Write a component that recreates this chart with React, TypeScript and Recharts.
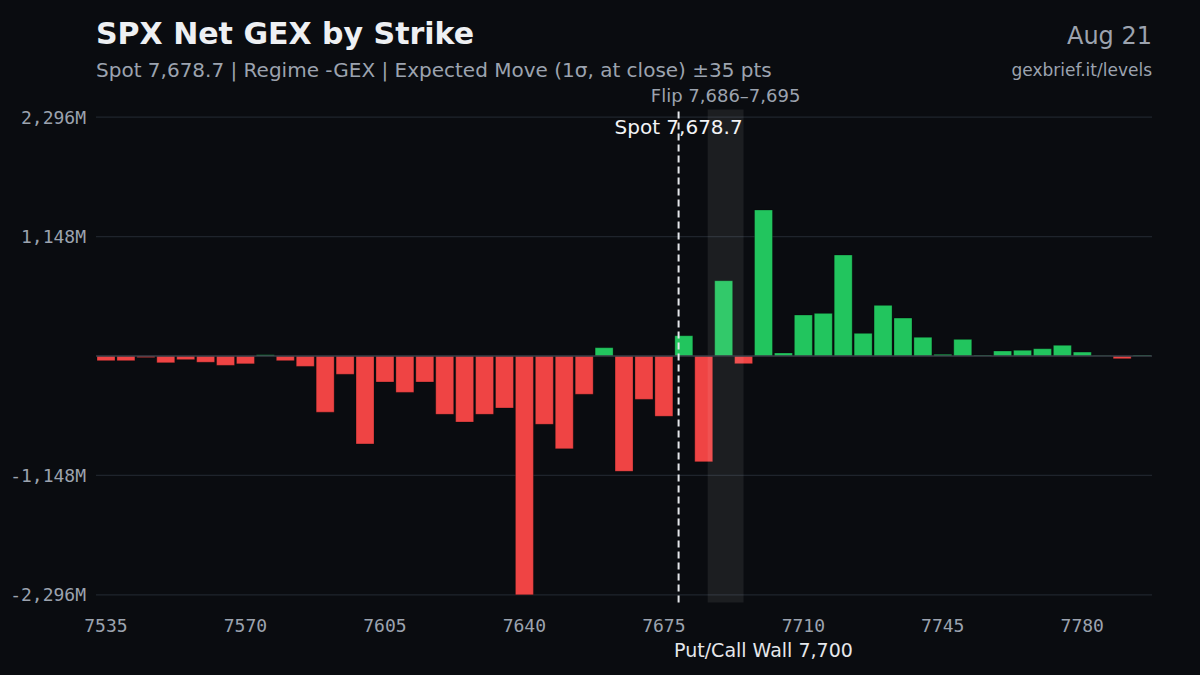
import React from "react";
import {
  BarChart,
  Bar,
  XAxis,
  YAxis,
  ReferenceLine,
  ReferenceArea,
  Cell,
} from "recharts";

// ---- Data ----
const strikes = [
  7535, 7540, 7545, 7550, 7555, 7560, 7565, 7570, 7575, 7580, 7585, 7590, 7595,
  7600, 7605, 7610, 7615, 7620, 7625, 7630, 7635, 7640, 7645, 7650, 7655, 7660,
  7665, 7670, 7675, 7680, 7685, 7690, 7695, 7700, 7705, 7710, 7715, 7720, 7725,
  7730, 7735, 7740, 7745, 7750, 7755, 7760, 7765, 7770, 7775, 7780, 7785, 7790,
  7795,
];

// Net GEX in millions
const netGex = [
  -45, -45, -15, -65, -35, -60, -90, -75, 12, -45, -100, -540, -176,
  -845, -250, -350, -250, -561, -635, -561, -500, -2296, -657, -892, -368, 80,
  -1109, -417, -580, 195, -1017, 724, -74, 1404, 29, 394, 410, 971, 218,
  487, 365, 180, 16, 160, 8, 48, 55, 70, 103, 38, 4, -26,
  8,
];

const xTicks = [7535, 7570, 7605, 7640, 7675, 7710, 7745, 7780];
const yTicks = [-2296, -1148, 1148, 2296];
const yDomain = [-2370, 2370];
const xDomain = [7532.5, 7797.5];

const spot = 7678.7;
const flipLow = 7686;
const flipHigh = 7695;
const wall = 7700;

const title = "SPX Net GEX by Strike";
const subtitle =
  "Spot 7,678.7 | Regime -GEX | Expected Move (1σ, at close) ±35 pts";
const dateLabel = "Aug 21";
const siteLabel = "gexbrief.it/levels";
const spotLabel = "Spot 7,678.7";
const flipLabel = "Flip 7,686–7,695";
const wallLabel = "Put/Call Wall 7,700";

const data = strikes.map((s, i) => ({ strike: s, gex: netGex[i] }));

const BG = "#0a0c10";
const RED = "#ef4444";
const GREEN = "#22c55e";
const MUTED = "#9ca3af";
const GRID = "#1f242c";
const SANS = "'DejaVu Sans', 'Noto Sans', sans-serif";
const MONO = "'DejaVu Sans Mono', monospace";

const fmtY = (v: number) => `${v.toLocaleString("en-US")}M`;

export default function App() {
  return (
    <div
      style={{
        position: "relative",
        width: 1200,
        height: 675,
        background: BG,
        overflow: "hidden",
      }}
    >
      <style>{`html,body{margin:0;padding:0;background:${BG};}`}</style>
      <BarChart
        width={1200}
        height={675}
        data={data}
        margin={{ top: 109.5, right: 48, bottom: 32.5, left: 0 }}
        barSize={18}
      >
        <XAxis
          type="number"
          dataKey="strike"
          domain={xDomain}
          ticks={xTicks}
          allowDataOverflow
          height={40}
          axisLine={false}
          tickLine={false}
          tickSize={6}
          tickMargin={11}
          tick={{ fill: MUTED, fontSize: 18, fontFamily: MONO }}
          interval={0}
        />
        <YAxis
          type="number"
          domain={yDomain}
          ticks={yTicks}
          allowDataOverflow
          width={96}
          axisLine={false}
          tickLine={false}
          tickSize={6}
          tickMargin={4}
          tickFormatter={fmtY}
          tick={{ fill: MUTED, fontSize: 18, fontFamily: MONO }}
          interval={0}
        />
        {yTicks.map((t) => (
          <ReferenceLine
            key={`grid-${t}`}
            y={t}
            stroke={GRID}
            strokeWidth={1.2}
            zIndex={-100}
          />
        ))}
        <Bar
          dataKey="gex"
          isAnimationActive={false}
          stroke="rgba(0,0,0,0.28)"
          strokeWidth={1}
        >
          {data.map((d, i) => (
            <Cell key={i} fill={d.gex >= 0 ? GREEN : RED} />
          ))}
        </Bar>
        <ReferenceArea
          x1={flipLow}
          x2={flipHigh}
          fill="#ffffff"
          fillOpacity={0.075}
          stroke="none"
          zIndex={350}
          label={(p: any) => {
            const vb = p.viewBox || {};
            return (
              <text
                x={vb.x + vb.width / 2}
                y={vb.y - 7.5}
                textAnchor="middle"
                fill={MUTED}
                fontSize={18}
                fontFamily={SANS}
              >
                {flipLabel}
              </text>
            );
          }}
        />
        <ReferenceLine y={0} stroke="#3a3f48" strokeWidth={1.5} />
        <ReferenceLine
          x={spot}
          stroke="#e5e7eb"
          strokeWidth={2}
          strokeDasharray="7 4"
          label={(p: any) => {
            const vb = p.viewBox || {};
            return (
              <text
                x={vb.x}
                y={vb.y + 24.5}
                textAnchor="middle"
                fill="#f3f4f6"
                fontSize={20}
                fontFamily={SANS}
              >
                {spotLabel}
              </text>
            );
          }}
        />
        <ReferenceLine
          x={wall}
          stroke="none"
          strokeOpacity={0}
          label={(p: any) => {
            const vb = p.viewBox || {};
            return (
              <text
                x={vb.x}
                y={vb.y + vb.height + 54}
                textAnchor="middle"
                fill="#e5e7eb"
                fontSize={19}
                fontFamily={SANS}
              >
                {wallLabel}
              </text>
            );
          }}
        />
      </BarChart>
      <svg
        width={1200}
        height={675}
        style={{ position: "absolute", left: 0, top: 0, pointerEvents: "none" }}
      >
        <text
          x={96}
          y={44}
          fill="#eef0f3"
          fontSize={30}
          fontWeight="bold"
          fontFamily={SANS}
        >
          {title}
        </text>
        <text x={96} y={76.5} fill={MUTED} fontSize={20} fontFamily={SANS}>
          {subtitle}
        </text>
        <text
          x={1152}
          y={44}
          textAnchor="end"
          fill={MUTED}
          fontSize={24}
          fontFamily={SANS}
        >
          {dateLabel}
        </text>
        <text
          x={1152}
          y={76}
          textAnchor="end"
          fill={MUTED}
          fontSize={17}
          fontFamily={SANS}
        >
          {siteLabel}
        </text>
      </svg>
    </div>
  );
}
